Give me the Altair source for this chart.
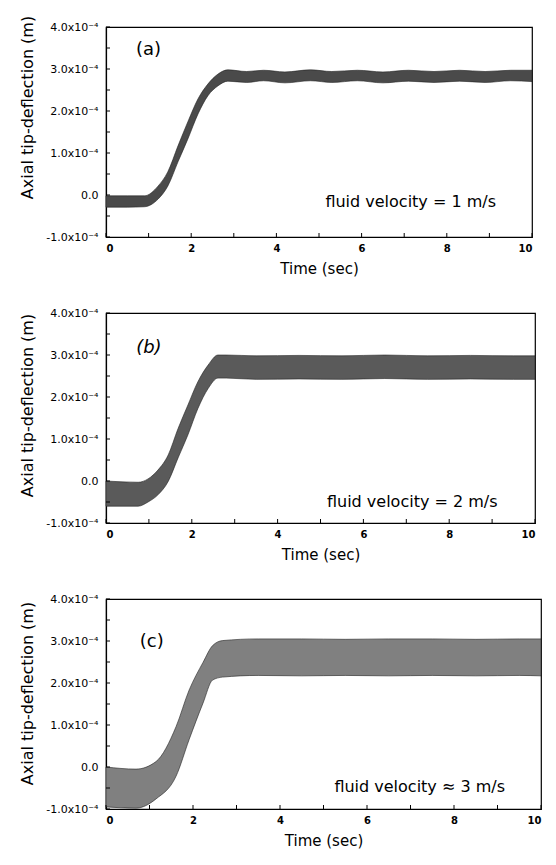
import altair as alt
import pandas as pd

# ---- data (deflection in units of 1e-4 m) ----
# envelope of the oscillating tip deflection
t_a = [0, 0.5, 0.9, 1.22, 1.45, 1.69, 1.92, 2.16, 2.39, 2.63, 2.86, 3.3, 3.7, 4.2, 4.8, 5.3, 5.9, 6.5, 7.1, 7.7, 8.3, 8.9, 9.5, 10]
hi_a = [-0.02, -0.02, -0.02, 0.21, 0.55, 1.17, 1.74, 2.29, 2.64, 2.88, 2.98, 2.94, 2.97, 2.93, 2.98, 2.94, 2.97, 2.93, 2.97, 2.94, 2.97, 2.94, 2.97, 2.97]
lo_a = [-0.29, -0.29, -0.28, -0.10, 0.21, 0.79, 1.33, 1.93, 2.36, 2.60, 2.71, 2.68, 2.72, 2.67, 2.72, 2.68, 2.72, 2.67, 2.71, 2.68, 2.71, 2.68, 2.72, 2.70]

t_b = [0, 0.75, 0.98, 1.21, 1.45, 1.68, 1.91, 2.14, 2.38, 2.61, 2.8, 3.5, 4.5, 5.5, 6.5, 7.5, 8.5, 9.5, 10]
hi_b = [0.0, -0.03, 0.05, 0.26, 0.62, 1.25, 1.81, 2.36, 2.76, 3.0, 3.0, 2.98, 2.99, 2.98, 3.0, 2.98, 2.99, 2.98, 2.98]
lo_b = [-0.6, -0.6, -0.5, -0.33, -0.01, 0.55, 1.1, 1.72, 2.2, 2.45, 2.45, 2.42, 2.43, 2.42, 2.44, 2.42, 2.43, 2.42, 2.42]

t_c = [0, 0.69, 1.15, 1.61, 1.91, 2.23, 2.45, 2.68, 3.5, 4.5, 5.5, 6.5, 7.5, 8.5, 9.5, 10]
hi_c = [0.0, -0.05, 0.13, 0.96, 1.83, 2.49, 2.89, 3.01, 3.05, 3.05, 3.04, 3.05, 3.05, 3.04, 3.05, 3.05]
lo_c = [-0.95, -0.98, -0.76, -0.22, 0.65, 1.52, 2.07, 2.14, 2.18, 2.17, 2.18, 2.17, 2.18, 2.17, 2.18, 2.17]

panel_labels = ["(a)", "(b)", "(c)"]
panel_label_pos = [(1.0, 3.45), (1.0, 3.17), (1.05, 2.98)]
notes = ["fluid velocity = 1 m/s", "fluid velocity = 2 m/s", "fluid velocity \u2248 3 m/s"]
note_pos = [(5.15, -0.17), (5.15, -0.5), (5.25, -0.48)]

x_label_values = [0, 2, 4, 6, 8, 10]
x_tick_values = [0, 1, 2, 3, 4, 5, 6, 7, 8, 9, 10]
y_label_values = [-1, 0, 1, 2, 3, 4]
y_label_texts = ["-1.0x10\u207b\u2074", "0.0", "1.0x10\u207b\u2074", "2.0x10\u207b\u2074",
                 "3.0x10\u207b\u2074", "4.0x10\u207b\u2074"]
y_tick_values = [-1, -0.5, 0, 0.5, 1, 1.5, 2, 2.5, 3, 3.5, 4]
y_title_offsets = [80, 92, 94]

H = 210
FONT = "DejaVu Sans"

label_expr = "".join(f"datum.value == {v} ? '{s}' : " for v, s in zip(y_label_values, y_label_texts)) + "''"

XS = alt.Scale(domain=[0, 10], nice=False, zero=False)
YS = alt.Scale(domain=[-1, 4], nice=False, zero=False)
X_AXIS = alt.Axis(
    values=x_label_values, title="Time (sec)", ticks=False, grid=False,
    labelFont=FONT, labelFontSize=10, labelFontWeight="bold", labelPadding=6,
    titleFont=FONT, titleFontSize=15, titleFontWeight="normal", titlePadding=8,
    domainColor="black", domainWidth=1.2, labelColor="black", titleColor="black")


def y_axis(idx):
    return alt.Axis(
        values=y_label_values, labelExpr=label_expr, title="Axial tip-deflection (m)",
        ticks=False, grid=False, labelFont=FONT, labelFontSize=11, labelPadding=8,
        titleFont=FONT, titleFontSize=16, titleFontWeight="normal", titlePadding=10,
        titleY=y_title_offsets[idx],
        domainColor="black", domainWidth=1.2, labelColor="black", titleColor="black")


def X(field):
    return alt.X(field, scale=XS, axis=X_AXIS, title="Time (sec)")


def panel(t, lo, hi, idx, fill, width):
    ya = y_axis(idx)

    def Y(field):
        return alt.Y(field, scale=YS, axis=ya, title="Axial tip-deflection (m)")

    df = pd.DataFrame({"t": t, "v": lo, "hi": hi})
    area = alt.Chart(df).mark_area(color=fill, opacity=1, stroke="#222", strokeWidth=0.6,
                                   interpolate="monotone").encode(
        x=X("t:Q"), y=Y("v:Q"), y2="hi:Q")
    xt = alt.Chart(pd.DataFrame({"t": x_tick_values})).mark_rule(color="black", strokeWidth=1).encode(
        x=X("t:Q"), y=alt.value(H), y2=alt.value(H - 4))
    yt = alt.Chart(pd.DataFrame({"v": y_tick_values})).mark_rule(color="black", strokeWidth=1).encode(
        y=Y("v:Q"), x=alt.value(0), x2=alt.value(4))
    lt, lv = panel_label_pos[idx]
    lab = alt.Chart(pd.DataFrame({"t": [lt], "v": [lv], "s": [panel_labels[idx]]})).mark_text(
        font=FONT, fontSize=18, color="black", fontStyle="italic" if idx == 1 else "normal").encode(
        x=X("t:Q"), y=Y("v:Q"), text="s:N")
    nt, nv = note_pos[idx]
    note = alt.Chart(pd.DataFrame({"t": [nt], "v": [nv], "s": [notes[idx]]})).mark_text(
        font=FONT, fontSize=16, color="black", align="left").encode(
        x=X("t:Q"), y=Y("v:Q"), text="s:N")
    return alt.layer(area, xt, yt, lab, note).properties(width=width, height=H)


chart = alt.vconcat(
    panel(t_a, lo_a, hi_a, 0, "#4a4a4a", 426),
    panel(t_b, lo_b, hi_b, 1, "#5a5a5a", 429),
    panel(t_c, lo_c, hi_c, 2, "#808080", 435),
    spacing=29,
).properties(
    padding={"left": 11, "top": 6, "right": 5, "bottom": 5}
).configure_view(
    stroke="black", strokeWidth=1.2
)

chart.save("out.html", embed_options={"renderer": "svg", "actions": False})
